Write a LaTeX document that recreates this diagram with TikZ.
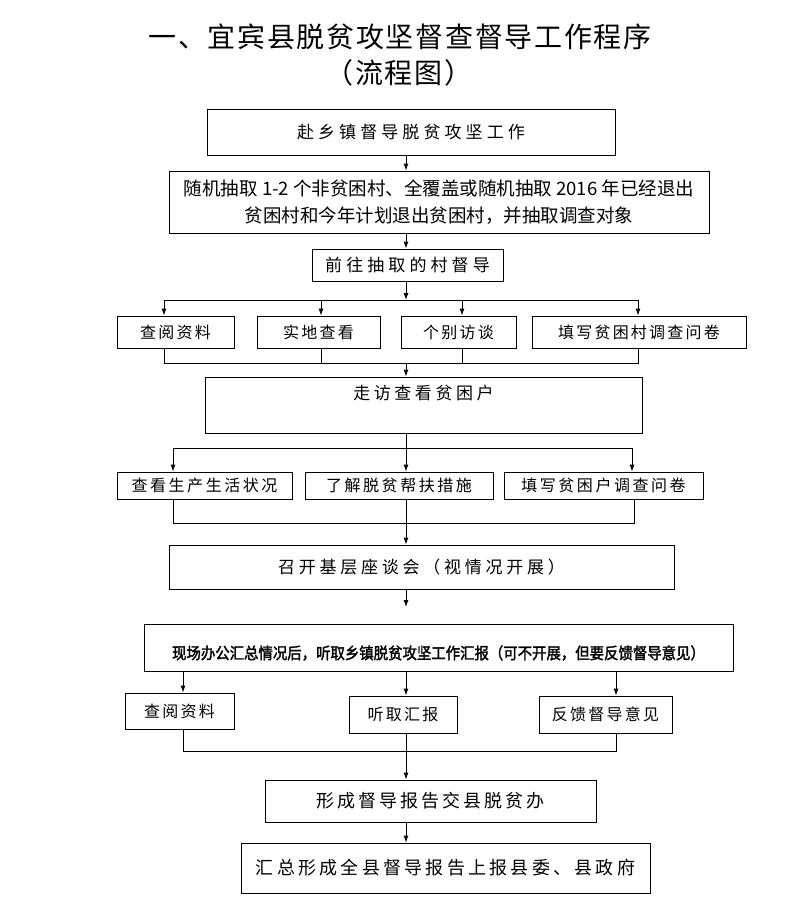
\documentclass[tikz,border=0pt]{standalone}
\usepackage{fontspec}
\setmainfont{Noto Sans CJK SC}
\newfontfamily\boldcjk[FakeBold=2,FakeStretch=0.9]{Noto Sans CJK SC}
\usetikzlibrary{arrows.meta}

\newcommand\boxfont[2]{\fontsize{#1}{27}\selectfont\addfontfeature{LetterSpace=#2}}

\tikzset{
  box/.style={
    rectangle,
    draw,
    inner sep=2pt,
    text centered,
    align=center
  },
  title/.style={
    inner sep=0pt,
    font=\boxfont{28}{6}
  },
}

\begin{document}
\begin{tikzpicture}[x=1pt, y=-1pt, line width=0.9pt, ->, >={Latex[length=7pt,width=5pt]}]
  \useasboundingbox (0,0) rectangle (793,915);
  \coordinate (mid) at (406,0);
  % title
  \node[title] (t1) at (400,37) {一、宜宾县脱贫攻坚督查督导工作程序};
  \node[title] (t2) at (399,73) {（流程图）};
  % main steps
  \node[box, minimum width=408, minimum height=46, font=\boxfont{17}{24}] (b1) at (411,132) {赴乡镇督导脱贫攻坚工作};
  \node[box, minimum width=540, minimum height=62, font=\boxfont{18.5}{0}] (b2) at (439,202)
    {随机抽取 1-2 个非贫困村、全覆盖或随机抽取 2016 年已经退出\\贫困村和今年计划退出贫困村，并抽取调查对象};
  \node[box, minimum width=191, minimum height=32, font=\boxfont{17}{24}] (b3) at (407.5,265) {前往抽取的村督导};
  % village checks
  \node[box, minimum width=117, minimum height=32, font=\boxfont{16}{14}] (r1a) at (175.5,332) {查阅资料};
  \node[box, minimum width=123, minimum height=32, font=\boxfont{16}{14}] (r1b) at (318.5,332) {实地查看};
  \node[box, minimum width=115, minimum height=32, font=\boxfont{16}{14}] (r1c) at (458.5,332) {个别访谈};
  \node[box, minimum width=214, minimum height=32, font=\boxfont{16}{14}] (r1d) at (639,332) {填写贫困村调查问卷};
  \node[box, minimum width=437, minimum height=56, text height=13, text depth=24, font=\boxfont{17}{21}] (b4) at (423.5,405) {走访查看贫困户};
  % household checks
  \node[box, minimum width=175, minimum height=27, font=\boxfont{16}{16}] (r2a) at (204.5,485.5) {查看生产生活状况};
  \node[box, minimum width=188, minimum height=27, font=\boxfont{16}{16}] (r2b) at (399,485.5) {了解脱贫帮扶措施};
  \node[box, minimum width=199, minimum height=27, font=\boxfont{16}{16}] (r2c) at (603.5,485.5) {填写贫困户调查问卷};
  \node[box, minimum width=505, minimum height=44, font=\boxfont{17}{22}] (b5) at (421.5,567) {召开基层座谈会（视情况开展）};
  \node[box, minimum width=589, minimum height=47, text height=25, text depth=2, font=\boldcjk\fontsize{16}{20}\selectfont] (b6) at (438.5,647.5)
    {现场办公汇总情况后，听取乡镇脱贫攻坚工作汇报（可不开展，但要反馈督导意见）};
  % town report
  \node[box, minimum width=109, minimum height=36, font=\boxfont{16}{14}] (r3a) at (179.5,711) {查阅资料};
  \node[box, minimum width=108, minimum height=37, font=\boxfont{16}{14}] (r3b) at (403,714.5) {听取汇报};
  \node[box, minimum width=133, minimum height=37, font=\boxfont{16}{14}] (r3c) at (605.5,714.5) {反馈督导意见};
  \node[box, minimum width=331, minimum height=42, font=\boxfont{18}{17}] (b7) at (430.5,801) {形成督导报告交县脱贫办};
  \node[box, minimum width=409, minimum height=50, font=\boxfont{18}{18}] (b8) at (445.5,868) {汇总形成全县督导报告上报县委、县政府};
  % fork and join points
  \coordinate (f1a) at (164,300);
  \coordinate (f1b) at (321,300);
  \coordinate (f1c) at (462,300);
  \coordinate (f1d) at (638,300);
  \coordinate (j1a) at (164,363);
  \coordinate (j1b) at (321,363);
  \coordinate (j1c) at (462,363);
  \coordinate (j1d) at (638,363);
  \coordinate (f2a) at (173,448);
  \coordinate (f2c) at (632,448);
  \coordinate (j2a) at (173,523);
  \coordinate (j2c) at (634,523);
  \coordinate (e5) at (406,607);
  \coordinate (f3a) at (183,671);
  \coordinate (f3c) at (616,671);
  \coordinate (j3a) at (183,751);
  \coordinate (j3c) at (616,751);
  % connectors
  \draw (b1.south -| mid) -- (b2.north -| mid);
  \draw (b2.south -| mid) -- (b3.north -| mid);
  \draw (b3.south -| mid) -- (f1a -| mid);
  \draw[-] (f1a) -- (f1d);
  \draw (f1a) -- (f1a |- r1a.north);
  \draw (f1b) -- (f1b |- r1b.north);
  \draw (f1c) -- (f1c |- r1c.north);
  \draw (f1d) -- (f1d |- r1d.north);
  \draw[-] (r1a.south -| j1a) -- (j1a) -- (j1d) -- (r1d.south -| j1d);
  \draw[-] (r1b.south -| j1b) -- (j1b);
  \draw[-] (r1c.south -| j1c) -- (j1c);
  \draw (j1a -| mid) -- (b4.north -| mid);
  \draw[-] (f2a) -- (f2c);
  \draw (b4.south -| mid) -- (r2b.north -| mid);
  \draw (f2a) -- (f2a |- r2a.north);
  \draw (f2c) -- (f2c |- r2c.north);
  \draw[-] (r2a.south -| j2a) -- (j2a) -- (j2c) -- (r2c.south -| j2c);
  \draw (r2b.south -| mid) -- (b5.north -| mid);
  \draw (b5.south -| mid) -- (e5);
  \draw[-] (f3a) -- (f3c);
  \draw (f3a) -- (f3a |- r3a.north);
  \draw (f3c) -- (f3c |- r3c.north);
  \draw (b6.south -| mid) -- (r3b.north -| mid);
  \draw[-] (r3a.south -| j3a) -- (j3a) -- (j3c) -- (r3c.south -| j3c);
  \draw (r3b.south -| mid) -- (b7.north -| mid);
  \draw (b7.south -| mid) -- (b8.north -| mid);
\end{tikzpicture}
\end{document}
